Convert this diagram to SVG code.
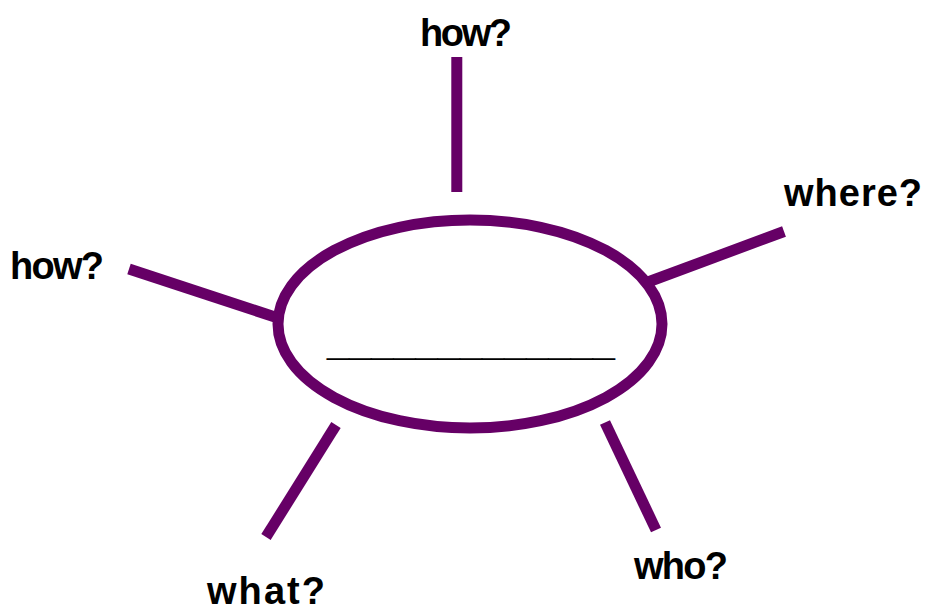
<svg xmlns="http://www.w3.org/2000/svg" width="929" height="611" viewBox="0 0 929 611">
<style>
.c{stroke:#660066;stroke-width:11;fill:none;stroke-linecap:butt}
.t{font-family:"Comic Sans MS","Liberation Sans",sans-serif;font-weight:bold;font-size:38px;fill:#000}
.u{font-family:"Liberation Sans",sans-serif;font-size:28px;fill:#000}
</style>
<rect width="929" height="611" fill="#fff"/>
<g id="connectors">
<line class="c" x1="456.8" y1="57" x2="456.8" y2="192"/>
<line class="c" x1="648" y1="282" x2="784" y2="231.5"/>
<line class="c" x1="129" y1="269" x2="275" y2="317"/>
<line class="c" x1="336" y1="425" x2="266" y2="537"/>
<line class="c" x1="605" y1="422.5" x2="656" y2="530"/>
</g>
<g id="center">
<ellipse cx="470" cy="324" rx="192" ry="104" fill="#fff" stroke="#660066" stroke-width="11"/>
<text class="u" x="327" y="354" textLength="288" lengthAdjust="spacingAndGlyphs">_____________</text>
</g>
<g id="how-top"><text class="t" x="466" y="46" text-anchor="middle" textLength="92">how?</text></g>
<g id="where"><text class="t" x="853" y="206" text-anchor="middle" textLength="138">where?</text></g>
<g id="how-left"><text class="t" x="57" y="279" text-anchor="middle" textLength="94">how?</text></g>
<g id="what"><text class="t" x="266" y="604" text-anchor="middle" textLength="118">what?</text></g>
<g id="who"><text class="t" x="681" y="579" text-anchor="middle" textLength="94">who?</text></g>
</svg>
